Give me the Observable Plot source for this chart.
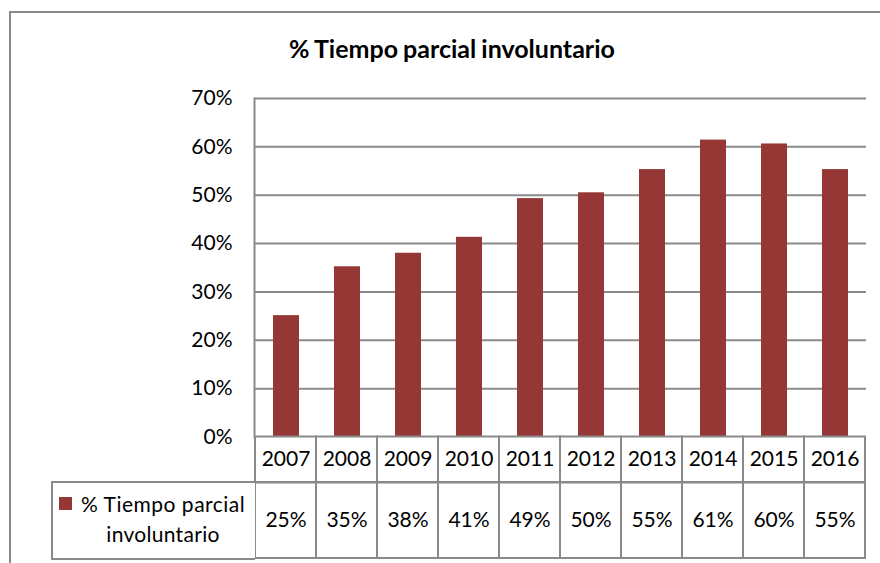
<!DOCTYPE html>
<html><head><meta charset="utf-8">
<script src="https://cdn.jsdelivr.net/npm/d3@7"></script>
<script src="https://cdn.jsdelivr.net/npm/@observablehq/plot@0.6"></script>
<style>
html,body{margin:0;padding:0;background:#fff;overflow:hidden;}
#root{position:relative;width:880px;height:563px;overflow:hidden;font-family:Lato,sans-serif;color:#000;}
.abs{position:absolute;}
#frame{left:9px;top:11px;width:1000px;height:1000px;border-left:2px solid #8a8a8a;border-top:2px solid #8a8a8a;}
#title{left:0;width:904px;top:33px;text-align:center;font-weight:bold;font-size:25px;line-height:30px;white-space:nowrap;word-spacing:-1px;}
#legend{left:51px;top:481px;width:202px;height:75px;border:2px solid #8a8a8a;border-right:none;background:#fff;}
#swatch{left:59px;top:497px;width:13px;height:13px;}
.lt{font-size:21px;line-height:30px;white-space:nowrap;}
svg{display:block;}
</style>
</head>
<body>
<div id="root">
  <div id="frame" class="abs"></div>
  <div id="title" class="abs"></div>
  <div id="chart" class="abs" style="left:0;top:0;"></div>
  <div id="rowYear" class="abs" style="left:0;top:435px;"></div>
  <div id="rowValue" class="abs" style="left:0;top:481px;"></div>
  <div id="legend" class="abs"></div>
  <div id="swatch" class="abs"></div>
  <div id="leg1" class="abs lt" style="left:81px;top:489px;letter-spacing:0.5px;"></div>
  <div id="leg2" class="abs lt" style="left:63px;width:200px;text-align:center;top:519px;letter-spacing:0.3px;"></div>
</div>
<script>
const seriesName = "% Tiempo parcial involuntario";
const legendLines = ["% Tiempo parcial", "involuntario"];
const years = ["2007","2008","2009","2010","2011","2012","2013","2014","2015","2016"];
const values = [0.251, 0.352, 0.380, 0.413, 0.493, 0.505, 0.553, 0.614, 0.606, 0.553];
const tableLabels = ["25%","35%","38%","41%","49%","50%","55%","61%","60%","55%"];
const yTicks = [0, 0.1, 0.2, 0.3, 0.4, 0.5, 0.6, 0.7];
const barColor = "#953735";
const gridColor = "#8a8a8a";

const data = years.map((year, i) => ({year, value: values[i], label: tableLabels[i]}));

document.getElementById("title").textContent = seriesName;
document.getElementById("leg1").textContent = legendLines[0];
document.getElementById("leg2").textContent = legendLines[1];
document.getElementById("swatch").style.background = barColor;

const baseStyle = {fontFamily: "Lato, sans-serif", fontSize: "21px", color: "#000", background: "transparent", overflow: "visible"};

const chart = Plot.plot({
  width: 880, height: 440,
  marginLeft: 254, marginRight: 14, marginTop: 98, marginBottom: 3.5,
  style: baseStyle,
  x: {domain: years, paddingInner: 0.58, paddingOuter: 0.29, axis: null},
  y: {domain: [0, 0.7], ticks: yTicks, tickSize: 0, tickPadding: 22, tickFormat: d3.format(".0%"), label: null},
  marks: [
    Plot.ruleY(yTicks.slice(1), {stroke: gridColor, strokeWidth: 2}),
    Plot.barY(data, {x: "year", y: "value", fill: barColor}),
    Plot.frame({anchor: "left", stroke: gridColor, strokeWidth: 2})
  ]
});
document.getElementById("chart").appendChild(chart);

function row(field, h) {
  return Plot.plot({
    width: 880, height: h,
    marginLeft: 254, marginRight: 14, marginTop: 1.5, marginBottom: 1,
    style: baseStyle,
    x: {domain: years, padding: 0, axis: null},
    marks: [
      Plot.cell(data, {x: "year", fill: "white", stroke: gridColor, strokeWidth: 2}),
      Plot.text(data, {x: "year", text: field, frameAnchor: "middle", fontSize: 21, fill: "#000"})
    ]
  });
}
document.getElementById("rowYear").appendChild(row("year", 48));
document.getElementById("rowValue").appendChild(row("label", 78));
</script>
</body></html>
